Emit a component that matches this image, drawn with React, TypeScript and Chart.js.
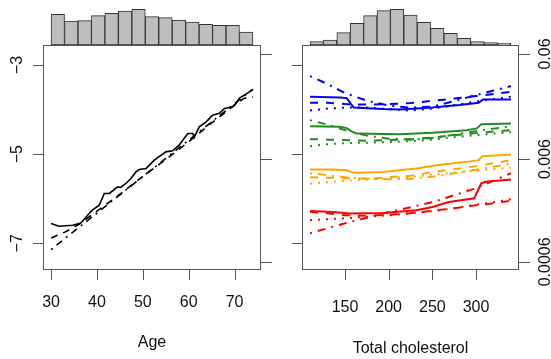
import React, { useEffect, useRef } from "react";
import { Chart, registerables } from "chart.js";
Chart.register(...registerables);

const FONT = '16px "Liberation Sans", Arial, Helvetica, sans-serif';

// ---- shared y axis (log-odds) ----
const yTicks = [-3, -5, -7];
const yTickLabels = ["\u22123", "\u22125", "\u22127"];
const probTicks = [0.06, 0.006, 0.0006];
const probTickLabels = ["0.06", "0.006", "0.0006"];

// ---- histograms ----
const ageHistCounts = [307, 240, 243, 293, 317, 340, 357, 283, 273, 250, 230, 207, 197, 197, 130];
const ageHistRange = [30, 74];
const cholHistCounts = [33, 50, 123, 217, 293, 343, 357, 300, 227, 167, 117, 67, 33, 23, 17];
const cholHistRange = [110, 340];

// ---- left panel: age ----
const ageTicks = [30, 40, 50, 60, 70];
const ageSolidX = [30, 31.7, 34.7, 36.5, 38.3, 39.0, 40.5, 41.6, 42.7, 44.5, 45.2, 46.3, 47.4, 48.5, 49.2, 50.7, 52.5, 54.0, 55.0, 56.5, 57.9, 59.8, 60.9, 61.2, 62.3, 63.8, 65.2, 66.7, 67.8, 69.6, 70.3, 71.0, 72.1, 74];
const ageSolidY = [-6.557, -6.618, -6.596, -6.544, -6.333, -6.258, -6.146, -5.883, -5.883, -5.735, -5.748, -5.658, -5.546, -5.398, -5.344, -5.321, -5.135, -5.022, -4.948, -4.926, -4.798, -4.535, -4.535, -4.625, -4.387, -4.274, -4.124, -4.085, -3.973, -3.937, -3.861, -3.748, -3.674, -3.55];
const ageDashedX = [30, 33, 36, 40, 45, 50, 55, 60, 65, 70, 72, 74];
const ageDashedY = [-6.88, -6.75, -6.58, -6.28, -5.9, -5.5, -5.12, -4.72, -4.3, -3.9, -3.75, -3.72];
const ageDotDashX = [30, 74];
const ageDotDashY = [-7.14, -3.54];

// ---- right panel: total cholesterol ----
const cholTicks = [150, 200, 250, 300];
const cholGrid = [110, 130, 150, 175, 200, 225, 250, 275, 300, 320, 340];

const blueSolidX = [110, 144, 152, 157, 160, 193, 213, 250, 281, 303, 308, 340];
const blueSolidY = [-3.712, -3.726, -3.742, -3.876, -3.951, -3.989, -3.996, -3.951, -3.899, -3.847, -3.771, -3.771];
const blueDashed = [-3.847, -3.847, -3.876, -3.888, -3.876, -3.854, -3.802, -3.753, -3.697, -3.652, -3.600];
const blueDotted = [-4.022, -3.978, -3.955, -3.955, -3.989, -4.022, -3.978, -3.899, -3.820, -3.764, -3.708];
const blueDotDash = [-3.247, -3.427, -3.629, -3.798, -3.910, -3.955, -3.933, -3.809, -3.674, -3.573, -3.472];

const greenSolidX = [110, 144, 152, 158, 163, 213, 250, 289, 301, 306, 340];
const greenSolidY = [-4.371, -4.387, -4.416, -4.494, -4.539, -4.551, -4.521, -4.461, -4.422, -4.326, -4.310];
const greenDashed = [-4.663, -4.674, -4.685, -4.697, -4.685, -4.663, -4.629, -4.573, -4.528, -4.494, -4.461];
const greenDotted = [-4.820, -4.775, -4.753, -4.742, -4.730, -4.708, -4.674, -4.618, -4.573, -4.539, -4.506];
const greenDotDash = [-4.236, -4.337, -4.461, -4.584, -4.652, -4.674, -4.640, -4.562, -4.483, -4.427, -4.382];

const orangeSolidX = [110, 133, 152, 158, 164, 193, 232, 255, 289, 303, 307, 340];
const orangeSolidY = [-5.344, -5.344, -5.360, -5.404, -5.420, -5.398, -5.321, -5.247, -5.173, -5.135, -5.045, -5.007];
const orangeDashed = [-5.517, -5.528, -5.539, -5.551, -5.517, -5.483, -5.404, -5.337, -5.270, -5.202, -5.135];
const orangeDotted = [-5.663, -5.629, -5.596, -5.573, -5.539, -5.506, -5.461, -5.416, -5.371, -5.337, -5.303];
const orangeDotDash = [-5.427, -5.472, -5.517, -5.551, -5.562, -5.551, -5.506, -5.427, -5.348, -5.281, -5.213];

const redSolidX = [110, 136, 156, 193, 232, 250, 269, 298, 306, 311, 340];
const redSolidY = [-6.274, -6.297, -6.333, -6.319, -6.258, -6.184, -6.072, -5.989, -5.652, -5.618, -5.569];
const redDashed = [-6.292, -6.326, -6.371, -6.382, -6.360, -6.326, -6.270, -6.213, -6.146, -6.101, -6.045];
const redDotted = [-6.483, -6.461, -6.438, -6.404, -6.371, -6.326, -6.281, -6.213, -6.135, -6.079, -6.011];
const redDotDashX = [110, 150, 200, 250, 300, 340];
const redDotDashY = [-6.775, -6.551, -6.303, -6.079, -5.764, -5.427];

const BLUE = "#0000FF";
const GREEN = "#228B22";
const ORANGE = "#FFA500";
const RED = "#FF0000";

const Y_MIN = -7.6;
const Y_MAX = -2.55;
const logit = (p: number) => Math.log(p / (1 - p));

const pts = (xs: number[], ys: number[]) => xs.map((x, i) => ({ x, y: ys[i] }));

function histData(counts: number[], range: number[]) {
  const w = (range[1] - range[0]) / counts.length;
  return counts.map((c, i) => ({ x: range[0] + w * (i + 0.5), y: [0, c] }));
}

const DASH = { solid: [] as number[], dashed: [8, 8], dotted: [2, 6], dotdash: [2, 6, 8, 6] };

function line(xs: number[], ys: number[], color: string, dash: number[], width: number) {
  return {
    type: "line",
    data: pts(xs, ys),
    borderColor: color,
    borderWidth: width,
    borderDash: dash,
    pointRadius: 0,
    fill: false,
    tension: 0,
    xAxisID: "x",
    yAxisID: "y",
  };
}

type PanelProps = {
  left: number;
  width: number;
  pad: { left: number; right: number; top: number; bottom: number };
  xMin: number;
  xMax: number;
  xTicks: number[];
  xTitle: string;
  tickLabelY: number;
  titleY: number;
  leftLabelX: number | null;
  rightLabelX: number | null;
  hist: { counts: number[]; range: number[] };
  lines: any[];
};

function Panel(p: PanelProps) {
  const ref = useRef<HTMLCanvasElement>(null);
  useEffect(() => {
    if (!ref.current) return;
    const axisPlugin = {
      id: "rAxes",
      afterDraw(chart: any) {
        const ctx = chart.ctx;
        const a = chart.chartArea;
        const xs = chart.scales.x;
        const ys = chart.scales.y;
        ctx.save();
        ctx.strokeStyle = "#555555";
        ctx.lineWidth = 1;
        ctx.strokeRect(Math.round(a.left) + 0.5, Math.round(a.top) + 0.5, Math.round(a.right - a.left) - 1, Math.round(a.bottom - a.top) - 1);
        ctx.beginPath();
        p.xTicks.forEach((v) => {
          const px = Math.round(xs.getPixelForValue(v)) + 0.5;
          ctx.moveTo(px, a.bottom);
          ctx.lineTo(px, a.bottom + 10);
        });
        yTicks.forEach((v) => {
          const py = Math.round(ys.getPixelForValue(v)) + 0.5;
          ctx.moveTo(a.left - 10, py);
          ctx.lineTo(a.left, py);
        });
        probTicks.forEach((pr) => {
          const py = Math.round(ys.getPixelForValue(logit(pr))) + 0.5;
          ctx.moveTo(a.right, py);
          ctx.lineTo(a.right + 11, py);
        });
        ctx.stroke();

        ctx.fillStyle = "#111";
        ctx.font = FONT;
        ctx.textAlign = "center";
        ctx.textBaseline = "middle";
        p.xTicks.forEach((v) => {
          ctx.fillText(String(v), xs.getPixelForValue(v), p.tickLabelY);
        });
        ctx.fillText(p.xTitle, (a.left + a.right) / 2, p.titleY);
        if (p.leftLabelX !== null) {
          yTicks.forEach((v, i) => {
            ctx.save();
            ctx.translate(p.leftLabelX as number, ys.getPixelForValue(v));
            ctx.rotate(-Math.PI / 2);
            ctx.fillText(yTickLabels[i], 0, 0);
            ctx.restore();
          });
        }
        if (p.rightLabelX !== null) {
          probTicks.forEach((pr, i) => {
            ctx.save();
            ctx.translate(p.rightLabelX as number, ys.getPixelForValue(logit(pr)));
            ctx.rotate(-Math.PI / 2);
            ctx.fillText(probTickLabels[i], 0, 0);
            ctx.restore();
          });
        }
        ctx.restore();
      },
    };

    const chart = new Chart(ref.current, {
      type: "line",
      data: {
        datasets: [
          {
            type: "bar",
            data: histData(p.hist.counts, p.hist.range) as any,
            backgroundColor: "#BEBEBE",
            borderColor: "#333333",
            borderWidth: 1,
            borderSkipped: false,
            categoryPercentage: 1,
            barPercentage: 1,
            clip: false,
            xAxisID: "x",
            yAxisID: "yh",
          } as any,
          ...p.lines,
        ],
      },
      options: {
        responsive: false,
        animation: false,
        events: [],
        layout: { padding: p.pad },
        plugins: { legend: { display: false }, tooltip: { enabled: false } },
        scales: {
          x: {
            type: "linear",
            display: false,
            min: p.xMin,
            max: p.xMax,
            offset: false,
            afterBuildTicks: (s: any) => {
              s.ticks = p.xTicks.map((v) => ({ value: v }));
            },
          },
          y: { type: "linear", display: false, min: Y_MIN, max: Y_MAX },
          yh: { type: "linear", display: false, min: -2250, max: 0 },
        },
      } as any,
      plugins: [axisPlugin],
    });
    return () => chart.destroy();
  }, []);
  return (
    <canvas
      ref={ref}
      width={p.width}
      height={359}
      style={{ position: "absolute", left: p.left, top: 0, width: p.width, height: 359, display: "block" }}
    />
  );
}

export default function App() {
  const leftLines = [
    line(ageDotDashX, ageDotDashY, "#000", [2, 5, 7, 5], 1.6),
    line(ageDashedX, ageDashedY, "#000", [7, 6], 1.6),
    line(ageSolidX, ageSolidY, "#000", DASH.solid, 1.6),
  ];
  const rightLines = [
    line(cholGrid, blueDotDash, BLUE, DASH.dotdash, 2),
    line(cholGrid, blueDotted, BLUE, DASH.dotted, 2),
    line(cholGrid, blueDashed, BLUE, DASH.dashed, 2),
    line(blueSolidX, blueSolidY, BLUE, DASH.solid, 2),
    line(cholGrid, greenDotDash, GREEN, DASH.dotdash, 2),
    line(cholGrid, greenDotted, GREEN, DASH.dotted, 2),
    line(cholGrid, greenDashed, GREEN, DASH.dashed, 2),
    line(greenSolidX, greenSolidY, GREEN, DASH.solid, 2),
    line(cholGrid, orangeDotDash, ORANGE, DASH.dotdash, 2),
    line(cholGrid, orangeDotted, ORANGE, DASH.dotted, 2),
    line(cholGrid, orangeDashed, ORANGE, DASH.dashed, 2),
    line(orangeSolidX, orangeSolidY, ORANGE, DASH.solid, 2),
    line(redDotDashX, redDotDashY, RED, DASH.dotdash, 2),
    line(cholGrid, redDotted, RED, DASH.dotted, 2),
    line(cholGrid, redDashed, RED, DASH.dashed, 2),
    line(redSolidX, redSolidY, RED, DASH.solid, 2),
  ];
  return (
    <div style={{ position: "absolute", left: 0, top: 0, width: 551, height: 359, background: "#fff", overflow: "hidden" }}>
      <Panel
        left={0}
        width={280}
        pad={{ left: 43, right: 19, top: 45, bottom: 89 }}
        xMin={28.24}
        xMax={75.76}
        xTicks={ageTicks}
        xTitle="Age"
        tickLabelY={302.5}
        titleY={343}
        leftLabelX={17.5}
        rightLabelX={null}
        hist={{ counts: ageHistCounts, range: ageHistRange }}
        lines={leftLines}
      />
      <Panel
        left={280}
        width={271}
        pad={{ left: 22, right: 32, top: 45, bottom: 89 }}
        xMin={100.8}
        xMax={349.2}
        xTicks={cholTicks}
        xTitle="Total cholesterol"
        tickLabelY={307.5}
        titleY={349}
        leftLabelX={null}
        rightLabelX={265.5}
        hist={{ counts: cholHistCounts, range: cholHistRange }}
        lines={rightLines}
      />
    </div>
  );
}
